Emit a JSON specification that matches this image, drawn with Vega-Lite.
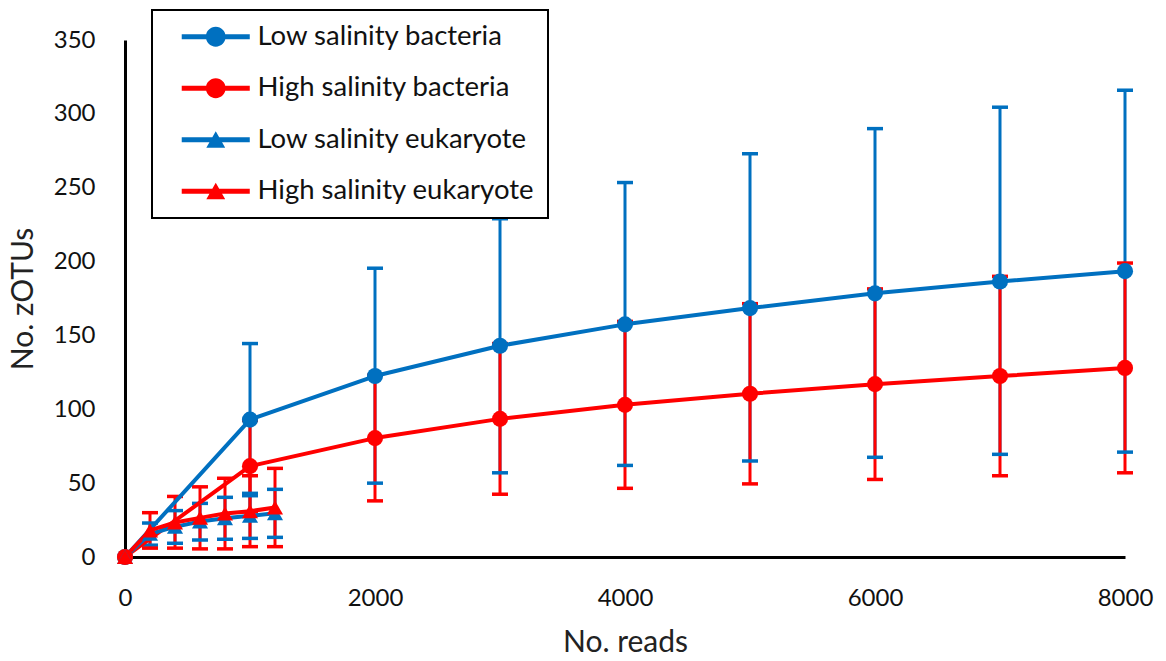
{
  "$schema": "https://vega.github.io/schema/vega-lite/v6.json",
  "width": 1000,
  "height": 517,
  "autosize": {"type": "none"},
  "padding": {"left": 125, "top": 40, "right": 41, "bottom": 104},
  "background": "white",
  "config": {
    "view": {"stroke": null},
    "font": "Lato",
    "axis": {"labelFont": "Lato", "titleFont": "Lato", "labelColor": "#111", "titleColor": "#222", "titleFontWeight": "normal"},
    "legend": {"labelFont": "Lato"}
  },
  "data": {
    "values": [
      {"series": "Low salinity bacteria", "organism": "bacteria", "reads": 0, "otus": 0, "lo": null, "hi": null},
      {"series": "Low salinity bacteria", "organism": "bacteria", "reads": 1000, "otus": 93, "lo": 41.5, "hi": 144.5},
      {"series": "Low salinity bacteria", "organism": "bacteria", "reads": 2000, "otus": 122.5, "lo": 50, "hi": 195.5},
      {"series": "Low salinity bacteria", "organism": "bacteria", "reads": 3000, "otus": 143, "lo": 57, "hi": 229},
      {"series": "Low salinity bacteria", "organism": "bacteria", "reads": 4000, "otus": 157.5, "lo": 62, "hi": 253.5},
      {"series": "Low salinity bacteria", "organism": "bacteria", "reads": 5000, "otus": 168.5, "lo": 65, "hi": 273},
      {"series": "Low salinity bacteria", "organism": "bacteria", "reads": 6000, "otus": 178.5, "lo": 67.5, "hi": 290},
      {"series": "Low salinity bacteria", "organism": "bacteria", "reads": 7000, "otus": 186.5, "lo": 69.5, "hi": 304.5},
      {"series": "Low salinity bacteria", "organism": "bacteria", "reads": 8000, "otus": 193.5, "lo": 71, "hi": 316},
      {"series": "High salinity bacteria", "organism": "bacteria", "reads": 0, "otus": 0, "lo": null, "hi": null},
      {"series": "High salinity bacteria", "organism": "bacteria", "reads": 1000, "otus": 61.5, "lo": 30.5, "hi": 92.5},
      {"series": "High salinity bacteria", "organism": "bacteria", "reads": 2000, "otus": 80.5, "lo": 38, "hi": 123},
      {"series": "High salinity bacteria", "organism": "bacteria", "reads": 3000, "otus": 93.5, "lo": 42.5, "hi": 144.5},
      {"series": "High salinity bacteria", "organism": "bacteria", "reads": 4000, "otus": 103, "lo": 46.5, "hi": 159.5},
      {"series": "High salinity bacteria", "organism": "bacteria", "reads": 5000, "otus": 110.5, "lo": 49.5, "hi": 171.5},
      {"series": "High salinity bacteria", "organism": "bacteria", "reads": 6000, "otus": 117, "lo": 52.5, "hi": 181.5},
      {"series": "High salinity bacteria", "organism": "bacteria", "reads": 7000, "otus": 122.5, "lo": 55, "hi": 190},
      {"series": "High salinity bacteria", "organism": "bacteria", "reads": 8000, "otus": 128, "lo": 57, "hi": 199},
      {"series": "Low salinity eukaryote", "organism": "eukaryote", "reads": 0, "otus": 0, "lo": null, "hi": null},
      {"series": "Low salinity eukaryote", "organism": "eukaryote", "reads": 200, "otus": 15.7, "lo": 8, "hi": 23},
      {"series": "Low salinity eukaryote", "organism": "eukaryote", "reads": 400, "otus": 20.4, "lo": 9.3, "hi": 31.4},
      {"series": "Low salinity eukaryote", "organism": "eukaryote", "reads": 600, "otus": 24, "lo": 11.5, "hi": 36.3},
      {"series": "Low salinity eukaryote", "organism": "eukaryote", "reads": 800, "otus": 26.2, "lo": 12, "hi": 40.4},
      {"series": "Low salinity eukaryote", "organism": "eukaryote", "reads": 1000, "otus": 27.9, "lo": 12.6, "hi": 43.1},
      {"series": "Low salinity eukaryote", "organism": "eukaryote", "reads": 1200, "otus": 29.6, "lo": 13.3, "hi": 45.8},
      {"series": "High salinity eukaryote", "organism": "eukaryote", "reads": 0, "otus": 0, "lo": null, "hi": null},
      {"series": "High salinity eukaryote", "organism": "eukaryote", "reads": 200, "otus": 18, "lo": 6, "hi": 30},
      {"series": "High salinity eukaryote", "organism": "eukaryote", "reads": 400, "otus": 23.4, "lo": 6, "hi": 41},
      {"series": "High salinity eukaryote", "organism": "eukaryote", "reads": 600, "otus": 26.5, "lo": 5.5, "hi": 47.5},
      {"series": "High salinity eukaryote", "organism": "eukaryote", "reads": 800, "otus": 29.4, "lo": 5.5, "hi": 53.3},
      {"series": "High salinity eukaryote", "organism": "eukaryote", "reads": 1000, "otus": 31, "lo": 7, "hi": 55},
      {"series": "High salinity eukaryote", "organism": "eukaryote", "reads": 1200, "otus": 33.5, "lo": 7, "hi": 60}
    ]
  },
  "encoding": {
    "x": {
      "field": "reads",
      "type": "quantitative",
      "scale": {"domain": [0, 8000], "nice": false, "zero": true},
      "axis": {
        "title": "No. reads",
        "format": "d",
        "values": [0, 2000, 4000, 6000, 8000],
        "grid": false,
        "ticks": false,
        "domainColor": "black",
        "domainWidth": 3,
        "labelFontSize": 24,
        "labelPadding": 29,
        "labelFlush": false,
        "titleFontSize": 30,
        "titlePadding": 17
      }
    }
  },
  "layer": [
    {
      "mark": {"type": "rule", "strokeWidth": 3},
      "encoding": {
        "y": {"field": "lo", "type": "quantitative"},
        "y2": {"field": "hi"},
        "color": {"field": "series", "type": "nominal"}
      }
    },
    {
      "mark": {"type": "tick", "orient": "horizontal", "size": 16, "thickness": 3.5, "opacity": 1},
      "encoding": {
        "y": {"field": "lo", "type": "quantitative"},
        "color": {"field": "series", "type": "nominal"}
      }
    },
    {
      "mark": {"type": "tick", "orient": "horizontal", "size": 16, "thickness": 3.5, "opacity": 1},
      "encoding": {
        "y": {"field": "hi", "type": "quantitative"},
        "color": {"field": "series", "type": "nominal"}
      }
    },
    {
      "mark": {"type": "line", "strokeWidth": 4, "strokeJoin": "round"},
      "encoding": {
        "y": {"field": "otus", "type": "quantitative"},
        "color": {"field": "series", "type": "nominal"}
      }
    },
    {
      "mark": {"type": "point", "filled": true, "size": 260, "opacity": 1},
      "encoding": {
        "y": {
          "field": "otus",
          "type": "quantitative",
          "scale": {"domain": [0, 350], "nice": false},
          "axis": {
            "title": "No. zOTUs",
            "values": [0, 50, 100, 150, 200, 250, 300, 350],
            "grid": false,
            "ticks": false,
            "domainColor": "black",
            "domainWidth": 3,
            "labelFontSize": 24,
            "labelPadding": 30,
            "titleFontSize": 30,
            "titlePadding": 15
          }
        },
        "color": {
          "field": "series",
          "type": "nominal",
          "scale": {
            "domain": ["Low salinity bacteria", "High salinity bacteria", "Low salinity eukaryote", "High salinity eukaryote"],
            "range": ["#0070C0", "#FF0000", "#0070C0", "#FF0000"]
          },
          "legend": {
            "title": null,
            "orient": "none",
            "legendX": 27,
            "legendY": -30,
            "labelFontSize": 27.5,
            "labelColor": "#111",
            "labelLimit": 0,
            "strokeColor": "black",
            "padding": 13,
            "rowPadding": 22.5,
            "symbolOffset": 37,
            "labelOffset": 28,
            "symbolStrokeWidth": 0,
            "encoding": {
              "legend": {"strokeWidth": {"value": 2}},
              "symbols": {
                "size": {"value": 324},
                "shape": {
                  "condition": {
                    "test": "indexof(datum.value, 'eukaryote') >= 0",
                    "value": "M-3.78,-0.28L3.78,-0.28L3.78,0.28L-3.78,0.28ZM0,-0.95L1.05,0.9L-1.05,0.9Z"
                  },
                  "value": "M-3.78,-0.28L3.78,-0.28L3.78,0.28L-3.78,0.28ZM-1.1,0A1.1,1.1,0,1,1,1.1,0A1.1,1.1,0,1,1,-1.1,0Z"
                }
              }
            }
          }
        },
        "shape": {
          "field": "organism",
          "type": "nominal",
          "legend": null,
          "scale": {
            "domain": ["bacteria", "eukaryote"],
            "range": ["circle", "triangle-up"]
          }
        }
      }
    }
  ]
}
